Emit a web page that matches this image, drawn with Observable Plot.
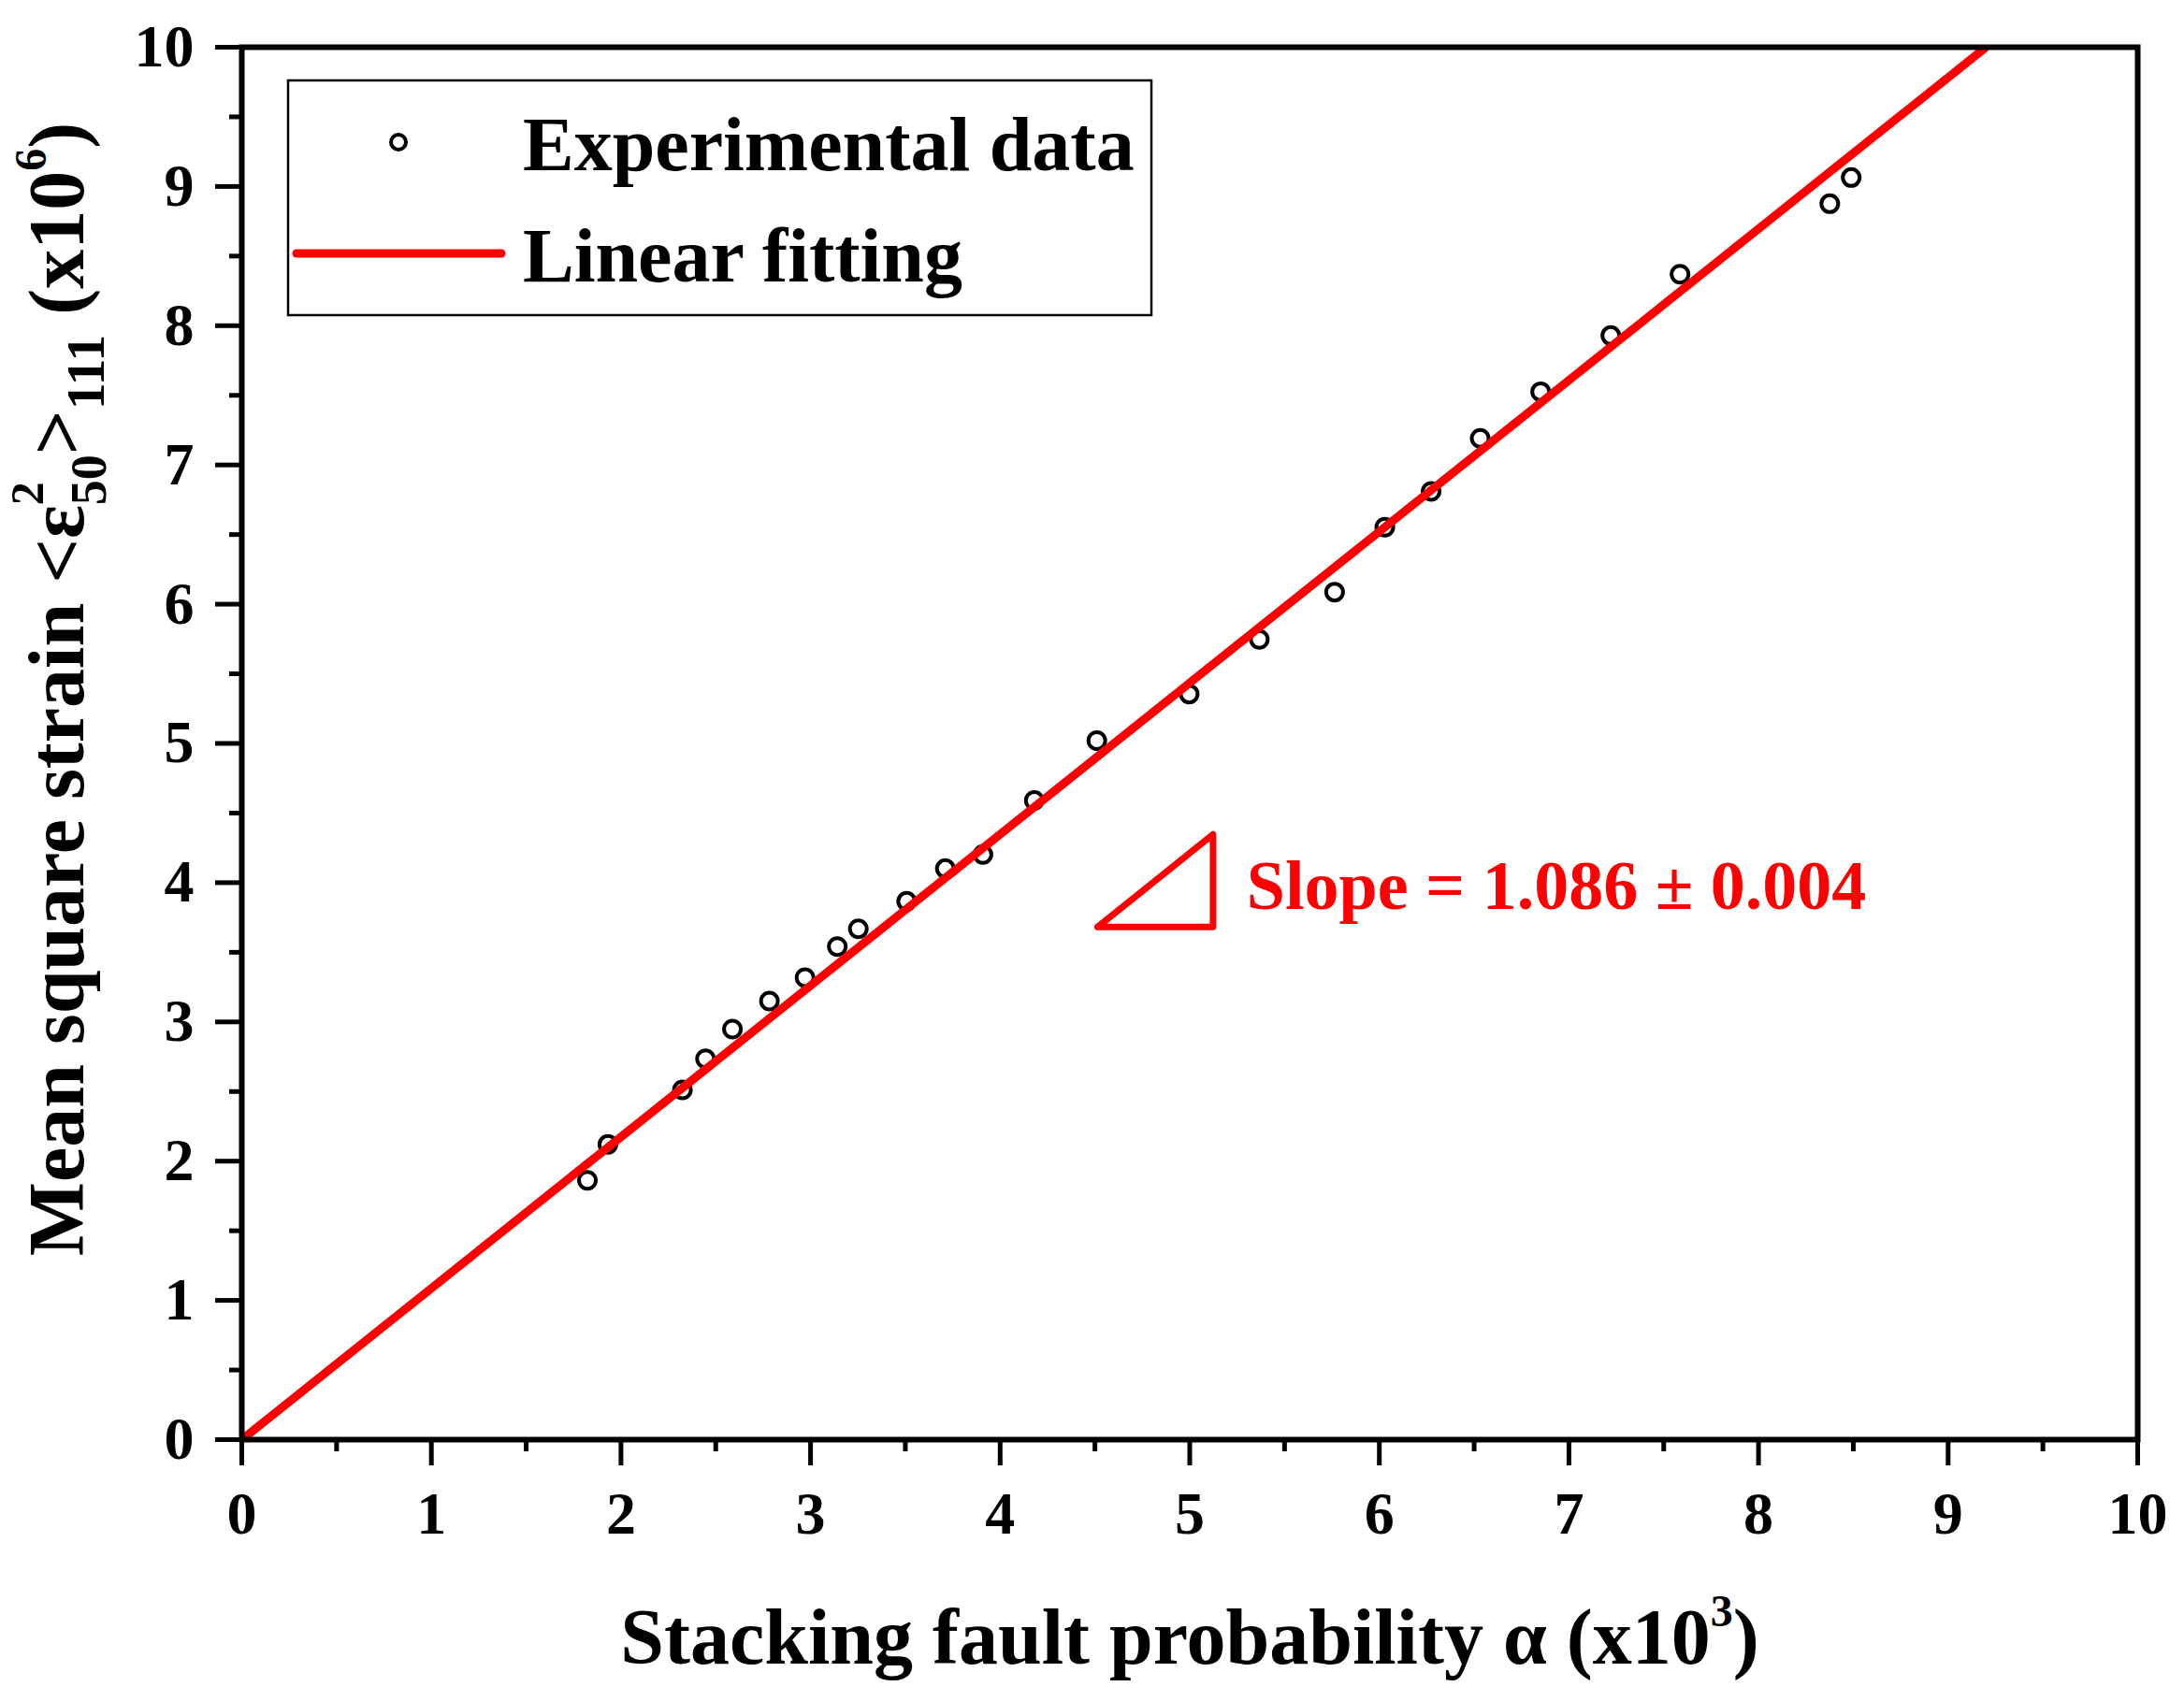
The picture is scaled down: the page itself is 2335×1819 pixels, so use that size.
<!DOCTYPE html>
<html><head><meta charset="utf-8">
<script src="https://cdn.jsdelivr.net/npm/d3@7"></script>
<script src="https://cdn.jsdelivr.net/npm/@observablehq/plot@0.6"></script>
<style>html,body{margin:0;padding:0;background:#fff}</style>
</head><body><div id="chart"></div>
<script>
// ---- data ----
const alpha = [1.823, 1.931, 2.324, 2.446, 2.588, 2.783, 2.971, 3.141, 3.252, 3.507, 3.711, 3.909, 4.18, 4.51, 4.997, 5.367, 5.764, 6.029, 6.273, 6.532, 6.851, 7.221, 7.586, 8.376, 8.489];
const strain = [1.862, 2.120, 2.512, 2.735, 2.948, 3.150, 3.318, 3.541, 3.669, 3.866, 4.101, 4.202, 4.59, 5.02, 5.355, 5.747, 6.087, 6.553, 6.810, 7.191, 7.526, 7.929, 8.370, 8.876, 9.064];
const fitX = [0, 9.2];
const fitY = [0, 10];
const majorTicks = [0, 1, 2, 3, 4, 5, 6, 7, 8, 9, 10];
const minorTicks = [0.5, 1.5, 2.5, 3.5, 4.5, 5.5, 6.5, 7.5, 8.5, 9.5];
const triX = [4.514, 5.123, 5.123, 4.514];
const triY = [3.682, 4.347, 3.682, 3.682];
const slopeLabel = "Slope = 1.086 \u00B1 0.004";
const slopeAt = [{x: 5.30, y: 3.81}];
const legendLabels = ["Experimental data", "Linear fitting"];

const points = alpha.map((a, i) => ({a, s: strain[i]}));
const fit = fitX.map((x, i) => ({x, y: fitY[i]}));
const tri = triX.map((x, i) => ({x, y: triY[i]}));

const FONT = "'Palatino Linotype', 'Book Antiqua', Palatino, 'Liberation Serif', serif";
const RED = "#ff0000";

function titleMark() {
  return () => {
    const g = d3.create("svg:g").attr("font-family", FONT).attr("font-weight", "bold").attr("fill", "#000");
    // x title
    const tx = g.append("text").attr("x", 1272).attr("y", 1779).attr("text-anchor", "middle").attr("font-size", 84);
    tx.append("tspan").text("Stacking fault probability \u03B1 (x10");
    tx.append("tspan").attr("font-size", 48).attr("dy", -40).text("3");
    tx.append("tspan").attr("dy", 40).text(")");
    // y title
    const ty = g.append("text").attr("transform", "translate(89,737) rotate(-90)").attr("text-anchor", "middle").attr("font-size", 84);
    ty.append("tspan").text("Mean square strain <\u03B5");
    ty.append("tspan").attr("font-size", 50).attr("dy", -43).text("2");
    ty.append("tspan").attr("font-size", 54).attr("dx", -25).attr("dy", 67).text("50");
    ty.append("tspan").attr("dy", -24).text(">");
    ty.append("tspan").attr("font-size", 58).attr("dy", 22).text("111");
    ty.append("tspan").attr("dy", -22).text(" (x10");
    ty.append("tspan").attr("font-size", 48).attr("dy", -40).text("6");
    ty.append("tspan").attr("dy", 40).text(")");
    return g.node();
  };
}

function legendMark() {
  return () => {
    const g = d3.create("svg:g").attr("font-family", FONT).attr("font-weight", "bold").attr("text-anchor", "start");
    g.append("rect").attr("x", 308).attr("y", 86).attr("width", 923).attr("height", 251)
      .attr("fill", "#fff").attr("stroke", "#000").attr("stroke-width", 2.5);
    g.append("circle").attr("cx", 426).attr("cy", 152).attr("r", 8)
      .attr("fill", "none").attr("stroke", "#000").attr("stroke-width", 4);
    g.append("line").attr("x1", 317).attr("x2", 536).attr("y1", 271).attr("y2", 271)
      .attr("stroke", RED).attr("stroke-width", 9).attr("stroke-linecap", "round");
    g.append("text").attr("x", 559).attr("y", 182).attr("font-size", 82).attr("text-anchor", "start").attr("fill", "#000").text(legendLabels[0]);
    g.append("text").attr("x", 559).attr("y", 301).attr("font-size", 82).attr("text-anchor", "start").attr("fill", "#000").text(legendLabels[1]);
    return g.node();
  };
}

const chart = Plot.plot({
  width: 2335,
  height: 1819,
  marginLeft: 258,
  marginRight: 50,
  marginTop: 50,
  marginBottom: 280,
  style: {fontFamily: FONT, fontWeight: "bold", fontSize: "64px", background: "#fff", color: "#000"},
  x: {domain: [0, 10], label: null},
  y: {domain: [0, 10], label: null},
  marks: [
    Plot.axisX(majorTicks, {tickSize: 28, tickPadding: 27, strokeWidth: 5, fontSize: 64, fontWeight: "bold", tickFormat: d => String(d), label: null}),
    Plot.axisX(minorTicks, {tickSize: 13, strokeWidth: 5, tickFormat: () => "", label: null}),
    Plot.axisY(majorTicks, {tickSize: 28, tickPadding: 23, strokeWidth: 5, fontSize: 64, fontWeight: "bold", tickFormat: d => String(d), label: null}),
    Plot.axisY(minorTicks, {tickSize: 13, strokeWidth: 5, tickFormat: () => "", label: null}),
    Plot.dot(points, {x: "a", y: "s", r: 9, stroke: "#000", strokeWidth: 4, fill: "none"}),
    Plot.line(fit, {x: "x", y: "y", stroke: RED, strokeWidth: 9, strokeLinecap: "butt", clip: true}),
    Plot.line(tri, {x: "x", y: "y", stroke: RED, strokeWidth: 7, strokeLinejoin: "round"}),
    Plot.text(slopeAt, {x: "x", y: "y", text: () => slopeLabel, textAnchor: "start", lineAnchor: "bottom", fill: RED, fontSize: 74, fontWeight: "bold"}),
    Plot.frame({stroke: "#000", strokeWidth: 6}),
    legendMark(),
    titleMark()
  ]
});
document.getElementById("chart").appendChild(chart);
</script>
</body></html>
